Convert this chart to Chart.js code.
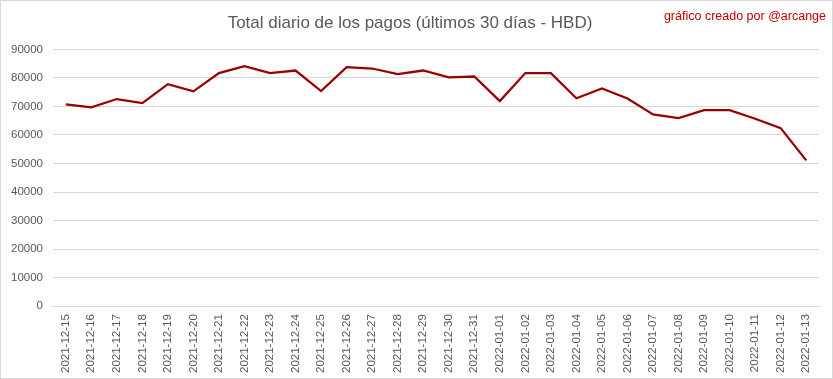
<!DOCTYPE html>
<html>
<head>
<meta charset="utf-8">
<script src="https://cdn.jsdelivr.net/npm/chart.js@4"></script>
<style>
  html, body { margin: 0; padding: 0; background: #ffffff; }
  #wrap { position: relative; width: 833px; height: 379px; box-sizing: border-box; border: 1px solid #d9d9d9; background: #fff; }
  #credit { position: absolute; right: 6px; top: 8px; font-family: "Liberation Sans", Arial, sans-serif; font-size: 12.5px; color: #c00000; }
  canvas { display: block; }
</style>
</head>
<body>
<div id="wrap">
  <canvas id="c"></canvas>
  <div id="credit">gráfico creado por @arcange</div>
</div>
<script>
const categories = [
  "2021-12-15","2021-12-16","2021-12-17","2021-12-18","2021-12-19","2021-12-20",
  "2021-12-21","2021-12-22","2021-12-23","2021-12-24","2021-12-25","2021-12-26",
  "2021-12-27","2021-12-28","2021-12-29","2021-12-30","2021-12-31","2022-01-01",
  "2022-01-02","2022-01-03","2022-01-04","2022-01-05","2022-01-06","2022-01-07",
  "2022-01-08","2022-01-09","2022-01-10","2022-01-11","2022-01-12","2022-01-13"
];
const totals = [
  70700, 69700, 72600, 71200, 77800, 75300,
  81700, 84100, 81700, 82600, 75400, 83800,
  83300, 81300, 82600, 80200, 80500, 71900,
  81700, 81700, 72900, 76300, 72800, 67200,
  65900, 68700, 68700, 65700, 62400, 51100
];
const yTicks = [0, 10000, 20000, 30000, 40000, 50000, 60000, 70000, 80000, 90000];
const titleText = "Total diario de los pagos (últimos 30 días - HBD)";

const FONT = '"Liberation Sans", Arial, sans-serif';

new Chart(document.getElementById('c'), {
  type: 'line',
  data: {
    labels: categories,
    datasets: [{
      data: totals,
      borderColor: '#990000',
      backgroundColor: '#990000',
      borderWidth: 2.25,
      pointRadius: 0,
      tension: 0,
      fill: false
    }]
  },
  options: {
    responsive: true,
    maintainAspectRatio: false,
    animation: false,
    layout: { padding: { left: 0, right: 13, top: 0, bottom: 5 } },
    plugins: {
      legend: { display: false },
      tooltip: { enabled: false },
      title: {
        display: true,
        text: titleText,
        color: '#595959',
        font: { family: FONT, size: 17, weight: 'normal' },
        padding: { top: 12, bottom: 16 }
      }
    },
    scales: {
      x: {
        offset: true,
        grid: { display: false },
        border: { display: true, color: '#d9d9d9' },
        ticks: {
          color: '#595959',
          font: { family: FONT, size: 11.5 },
          maxRotation: 90,
          minRotation: 90,
          autoSkip: false,
          padding: 0
        }
      },
      y: {
        min: 0,
        max: 90000,
        afterBuildTicks: (axis) => { axis.ticks = yTicks.map(v => ({ value: v })); },
        grid: { color: '#d9d9d9', drawTicks: false },
        border: { display: false },
        ticks: {
          color: '#595959',
          font: { family: FONT, size: 11.5 },
          padding: 10,
          callback: (v) => String(v)
        }
      }
    }
  }
});
</script>
</body>
</html>
